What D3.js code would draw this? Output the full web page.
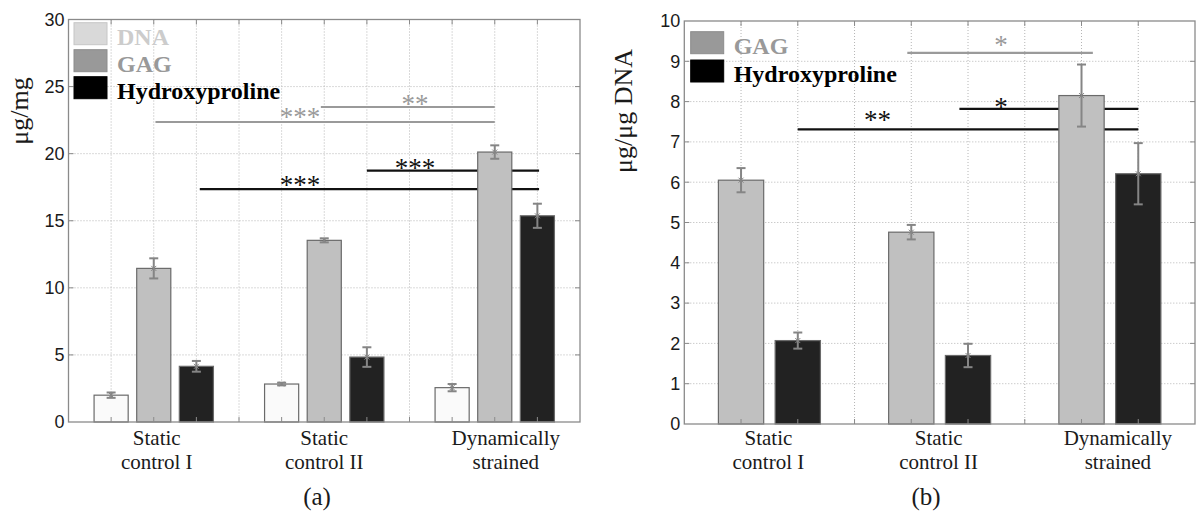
<!DOCTYPE html>
<html>
<head>
<meta charset="utf-8">
<script src="https://cdn.jsdelivr.net/npm/d3@7"></script>
<style>
  html, body { margin: 0; padding: 0; background: #fff; }
  svg { display: block; }
  .tick-label { font-family: "Liberation Sans", Arial, sans-serif; font-size: 18px; fill: #1a1a1a; }
  .group-label { font-family: "Liberation Serif", "Times New Roman", serif; font-size: 21px; fill: #1a1a1a; }
  .legend-text { font-family: "Liberation Serif", "Times New Roman", serif; font-size: 24px; font-weight: bold; }
  .y-title { font-family: "Liberation Serif", "Times New Roman", serif; font-size: 26px; fill: #1a1a1a; }
  .panel-tag { font-family: "Liberation Serif", "Times New Roman", serif; font-size: 25px; fill: #1a1a1a; }
  .star { font-family: "Liberation Serif", "Times New Roman", serif; font-size: 27px; }
</style>
</head>
<body>
<div id="chart"></div>
<script>
// ---- data ----
const groups = [['Static', 'control I'], ['Static', 'control II'], ['Dynamically', 'strained']];

// (a) content per mg
const dnaA    = [2.00, 2.83, 2.56];
const dnaErrA = [0.20, 0.10, 0.27];
const gagA    = [11.45, 13.54, 20.12];
const gagErrA = [0.75, 0.15, 0.50];
const hypA    = [4.15, 4.84, 15.37];
const hypErrA = [0.40, 0.73, 0.90];

// (b) content per ug DNA
const gagB    = [6.05, 4.76, 8.15];
const gagErrB = [0.30, 0.18, 0.77];
const hypB    = [2.07, 1.70, 6.21];
const hypErrB = [0.20, 0.29, 0.76];

const yTicksA = [0, 5, 10, 15, 20, 25, 30];
const yTicksB = [0, 1, 2, 3, 4, 5, 6, 7, 8, 9, 10];

// significance brackets: x in group units, y in data units, label position
const sigA = [
  { x1: 1.01, x2: 3.0,  y: 22.36, lx: 1.858, ly: 23.03, text: '***', tone: 'gray' },
  { x1: 1.98, x2: 3.0,  y: 23.48, lx: 2.532, ly: 24.0,  text: '**',  tone: 'gray' },
  { x1: 1.27, x2: 3.26, y: 17.35, lx: 1.858, ly: 17.91, text: '***', tone: 'black' },
  { x1: 2.25, x2: 3.26, y: 18.73, lx: 2.532, ly: 19.16, text: '***', tone: 'black' }
];
const sigB = [
  { x1: 1.81,  x2: 2.90,  y: 9.21, lx: 2.361, ly: 9.49, text: '*',  tone: 'gray' },
  { x1: 2.116, x2: 3.167, y: 7.82, lx: 2.361, ly: 7.96, text: '*',  tone: 'black' },
  { x1: 1.166, x2: 3.167, y: 7.31, lx: 1.635, ly: 7.63, text: '**', tone: 'black' }
];

// ---- styles ----
const BAR_FILL = { DNA: '#fafafa', GAG: '#c0c0c0', Hydroxyproline: '#222222' };
const LEG_FILL = { DNA: '#d9d9d9', GAG: '#999999', Hydroxyproline: '#000000' };
const LEG_TEXT = { DNA: '#cccccc', GAG: '#999999', Hydroxyproline: '#000000' };
const TONE = { gray: '#9a9a9a', black: '#111111' };

const W = 1196, H = 518;
const svg = d3.select('#chart').append('svg').attr('width', W).attr('height', H);

function drawPanel(cfg) {
  const x = d3.scaleLinear().domain([0.5, 3.5]).range([cfg.left, cfg.right]);
  const y = d3.scaleLinear().domain([0, cfg.yMax]).range([cfg.bottom, cfg.top]);
  const g = svg.append('g');

  // grid
  g.selectAll('.hgrid').data(cfg.yTicks.filter(t => t > 0 && t < cfg.yMax)).join('line')
    .attr('x1', cfg.left).attr('x2', cfg.right)
    .attr('y1', d => y(d)).attr('y2', d => y(d))
    .attr('stroke', '#b5b5b5').attr('stroke-dasharray', '1,2');
  g.selectAll('.vgrid').data(cfg.xGrid).join('line')
    .attr('x1', d => x(d)).attr('x2', d => x(d))
    .attr('y1', cfg.top).attr('y2', cfg.bottom)
    .attr('stroke', '#b5b5b5').attr('stroke-dasharray', '1,2');

  // significance lines (bars are drawn over them)
  g.selectAll('.sig').data(cfg.sig).join('line')
    .attr('x1', d => x(d.x1)).attr('x2', d => x(d.x2))
    .attr('y1', d => y(d.y)).attr('y2', d => y(d.y))
    .attr('stroke', d => TONE[d.tone]).attr('stroke-width', 2.2);
  g.selectAll('.star').data(cfg.sig).join('text')
    .attr('class', 'star')
    .attr('x', d => x(d.lx)).attr('y', d => y(d.ly) + 12.5)
    .attr('text-anchor', 'middle')
    .attr('fill', d => TONE[d.tone])
    .text(d => d.text);

  // bars
  const bars = [];
  cfg.series.forEach((s, si) => {
    s.values.forEach((v, gi) => {
      bars.push({ name: s.name, v, err: s.err[gi], cx: gi + 1 + cfg.offsets[si] });
    });
  });
  const bw = x(cfg.barWidth) - x(0);
  g.selectAll('.bar').data(bars).join('rect')
    .attr('x', d => x(d.cx) - bw / 2)
    .attr('y', d => y(d.v))
    .attr('width', bw)
    .attr('height', d => y(0) - y(d.v))
    .attr('fill', d => BAR_FILL[d.name])
    .attr('stroke', '#6a6a6a').attr('stroke-width', 1.2);

  // error bars
  const eb = g.selectAll('.err').data(bars).join('g').attr('stroke', '#858585');
  eb.append('line')
    .attr('x1', d => x(d.cx)).attr('x2', d => x(d.cx))
    .attr('y1', d => y(d.v - d.err)).attr('y2', d => y(d.v + d.err))
    .attr('stroke-width', 2);
  [-1, 1].forEach(sgn => {
    eb.append('line')
      .attr('x1', d => x(d.cx) - 4.5).attr('x2', d => x(d.cx) + 4.5)
      .attr('y1', d => y(d.v + sgn * d.err)).attr('y2', d => y(d.v + sgn * d.err))
      .attr('stroke-width', 2);
  });
  eb.append('path')
    .attr('d', d => {
      const cx = x(d.cx), cy = y(d.v);
      return `M${cx - 2.5},${cy - 2.5}L${cx + 2.5},${cy + 2.5}M${cx - 2.5},${cy + 2.5}L${cx + 2.5},${cy - 2.5}`;
    })
    .attr('stroke-width', 1);

  // box and ticks
  g.append('rect')
    .attr('x', cfg.left).attr('y', cfg.top)
    .attr('width', cfg.right - cfg.left).attr('height', cfg.bottom - cfg.top)
    .attr('fill', 'none').attr('stroke', '#8a8a8a').attr('stroke-width', 1.3);
  const yt = cfg.yTicks.filter(t => t > 0 && t < cfg.yMax);
  g.selectAll('.ytl').data(yt).join('line')
    .attr('x1', cfg.left).attr('x2', cfg.left + 5)
    .attr('y1', d => y(d)).attr('y2', d => y(d)).attr('stroke', '#8a8a8a');
  g.selectAll('.ytr').data(yt).join('line')
    .attr('x1', cfg.right - 5).attr('x2', cfg.right)
    .attr('y1', d => y(d)).attr('y2', d => y(d)).attr('stroke', '#8a8a8a');
  g.selectAll('.xtb').data(cfg.xGrid).join('line')
    .attr('x1', d => x(d)).attr('x2', d => x(d))
    .attr('y1', cfg.bottom - 5).attr('y2', cfg.bottom).attr('stroke', '#8a8a8a');
  g.selectAll('.xtt').data(cfg.xGrid).join('line')
    .attr('x1', d => x(d)).attr('x2', d => x(d))
    .attr('y1', cfg.top).attr('y2', cfg.top + 5).attr('stroke', '#8a8a8a');

  g.selectAll('.ylab').data(cfg.yTicks).join('text')
    .attr('class', 'tick-label')
    .attr('x', cfg.left - 4).attr('y', d => y(d))
    .attr('dy', '0.35em')
    .attr('text-anchor', 'end')
    .text(d => d);

  // group labels
  groups.forEach((lines, gi) => {
    const t = g.append('text').attr('class', 'group-label')
      .attr('text-anchor', 'middle')
      .attr('x', x(gi + 1) + cfg.nudge[gi]);
    lines.forEach((ln, li) => {
      t.append('tspan').attr('x', x(gi + 1) + cfg.nudge[gi])
        .attr('y', 445 + li * 23.5).text(ln);
    });
  });

  // y title
  g.append('text').attr('class', 'y-title')
    .attr('transform', `translate(${cfg.titleX},${cfg.titleY}) rotate(-90)`)
    .attr('text-anchor', 'middle')
    .text(cfg.title);

  // panel tag
  g.append('text').attr('class', 'panel-tag')
    .attr('x', cfg.tagX).attr('y', 505)
    .attr('text-anchor', 'middle')
    .text(cfg.tag);

  // legend
  cfg.series.forEach((s, i) => {
    const ly = cfg.legTop + i * cfg.legStep;
    g.append('rect')
      .attr('x', cfg.legX).attr('y', ly)
      .attr('width', 33).attr('height', 22)
      .attr('fill', LEG_FILL[s.name])
      .attr('stroke', d3.color(LEG_FILL[s.name]).darker(0.25))
      .attr('stroke-width', 1);
    g.append('text').attr('class', 'legend-text')
      .attr('x', cfg.legX + 43).attr('y', ly + 22.3)
      .attr('fill', LEG_TEXT[s.name])
      .text(s.name);
  });
}

drawPanel({
  left: 68.5, right: 580, top: 19.5, bottom: 422, yMax: 30,
  yTicks: yTicksA,
  xGrid: d3.range(0.75, 3.3, 0.25),
  offsets: [-0.25, 0, 0.25], barWidth: 0.2,
  series: [
    { name: 'DNA', values: dnaA, err: dnaErrA },
    { name: 'GAG', values: gagA, err: gagErrA },
    { name: 'Hydroxyproline', values: hypA, err: hypErrA }
  ],
  sig: sigA,
  nudge: [3, 0, 11],
  title: 'μg/mg', titleX: 28, titleY: 111,
  tag: '(a)', tagX: 317,
  legX: 74, legTop: 22.7, legStep: 27
});

drawPanel({
  left: 684.3, right: 1195, top: 21, bottom: 424, yMax: 10,
  yTicks: yTicksB,
  xGrid: [0.5 + 1 / 3, 0.5 + 2 / 3, 1.5, 1.5 + 1 / 3, 1.5 + 2 / 3, 2.5, 2.5 + 1 / 3, 2.5 + 2 / 3],
  offsets: [-1 / 6, 1 / 6], barWidth: 0.266,
  series: [
    { name: 'GAG', values: gagB, err: gagErrB },
    { name: 'Hydroxyproline', values: hypB, err: hypErrB }
  ],
  sig: sigB,
  nudge: [-1, -1, 8],
  title: 'μg/μg DNA', titleX: 632, titleY: 111,
  tag: '(b)', tagX: 926,
  legX: 690.7, legTop: 31.7, legStep: 28.3
});
</script>
</body>
</html>
